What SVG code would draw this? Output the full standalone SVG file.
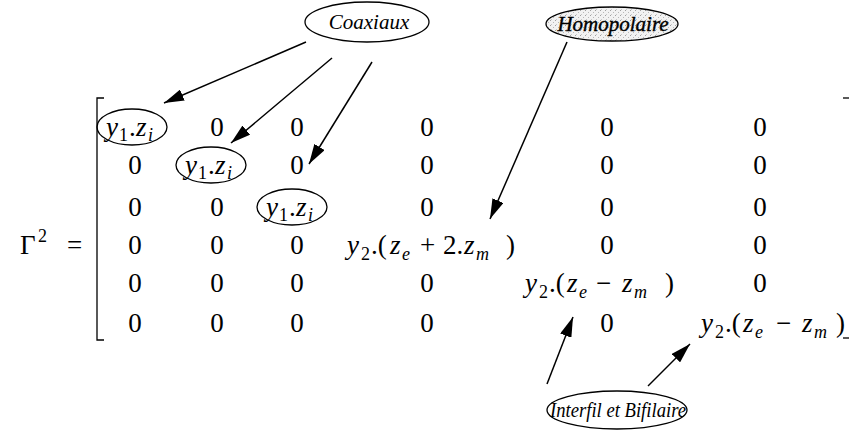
<svg xmlns="http://www.w3.org/2000/svg" width="852" height="440" viewBox="0 0 852 440" font-family="'Liberation Serif', 'Times New Roman', serif">
<style>
text, tspan{font-family:'Liberation Serif','Times New Roman',serif}
text{fill:#000}
.m{font-size:27px}
.i{font-style:italic}
.s{font-size:18px}
.lab{font-size:21px;font-style:italic;text-anchor:middle}
.c{text-anchor:middle}
.ell{fill:none;stroke:#000;stroke-width:1.3}
.br{fill:none;stroke:#000;stroke-width:1.3}
.con line{stroke:#000;stroke-width:1.5}
</style>
<defs>
<marker id="ah" viewBox="0 0 20 12" refX="20" refY="6" markerWidth="20" markerHeight="12" markerUnits="userSpaceOnUse" orient="auto">
<path d="M0,0 L20,6 L0,12 z" fill="#000"/>
</marker>
<pattern id="dots" width="5" height="5" patternUnits="userSpaceOnUse">
<rect width="5" height="5" fill="#f2f2f2"/>
<rect x="0" y="0" width="1" height="1" fill="#a0a0a0"/>
<rect x="3" y="2" width="1" height="1" fill="#b8b8b8"/>
<rect x="1" y="4" width="1" height="1" fill="#c8c8c8"/>
</pattern>
</defs>
<rect width="852" height="440" fill="#fff"/>

<g id="gamma">
<text class="m" x="20" y="254">Γ</text>
<text class="s" x="38" y="242">2</text>
<text class="m" x="67" y="254">=</text>
</g>

<g id="brackets">
<path class="br" d="M104,98 H97 V340 H104"/>
<path class="br" d="M843,98 H849"/>
</g>

<g id="matrix" class="m">
<text class="c" x="217" y="136">0</text>
<text class="c" x="297" y="136">0</text>
<text class="c" x="427" y="136">0</text>
<text class="c" x="607" y="136">0</text>
<text class="c" x="760" y="136">0</text>
<text class="c" x="135" y="174">0</text>
<text class="c" x="297" y="174">0</text>
<text class="c" x="427" y="174">0</text>
<text class="c" x="607" y="174">0</text>
<text class="c" x="760" y="174">0</text>
<text class="c" x="135" y="216">0</text>
<text class="c" x="217" y="216">0</text>
<text class="c" x="427" y="216">0</text>
<text class="c" x="607" y="216">0</text>
<text class="c" x="760" y="216">0</text>
<text class="c" x="135" y="254">0</text>
<text class="c" x="217" y="254">0</text>
<text class="c" x="297" y="254">0</text>
<text class="c" x="607" y="254">0</text>
<text class="c" x="760" y="254">0</text>
<text class="c" x="135" y="292">0</text>
<text class="c" x="217" y="292">0</text>
<text class="c" x="297" y="292">0</text>
<text class="c" x="427" y="292">0</text>
<text class="c" x="760" y="292">0</text>
<text class="c" x="135" y="332">0</text>
<text class="c" x="217" y="332">0</text>
<text class="c" x="297" y="332">0</text>
<text class="c" x="427" y="332">0</text>
<text class="c" x="607" y="332">0</text>
</g>

<g id="d1">
<ellipse class="ell" cx="132" cy="127" rx="35" ry="18"/>
<text class="m"><tspan class="i" x="106" y="136">y</tspan><tspan class="s" x="119" y="141">1</tspan><tspan x="129" y="136">.</tspan><tspan class="i" x="136" y="136">z</tspan><tspan class="s i" x="148" y="141">i</tspan></text>
</g>
<g id="d2">
<ellipse class="ell" cx="211" cy="165" rx="35" ry="18"/>
<text class="m"><tspan class="i" x="185" y="174">y</tspan><tspan class="s" x="198" y="179">1</tspan><tspan x="208" y="174">.</tspan><tspan class="i" x="215" y="174">z</tspan><tspan class="s i" x="227" y="179">i</tspan></text>
</g>
<g id="d3">
<ellipse class="ell" cx="292" cy="207" rx="35" ry="18"/>
<text class="m"><tspan class="i" x="266" y="216">y</tspan><tspan class="s" x="279" y="221">1</tspan><tspan x="289" y="216">.</tspan><tspan class="i" x="296" y="216">z</tspan><tspan class="s i" x="308" y="221">i</tspan></text>
</g>
<g id="d4">
<text class="m"><tspan class="i" x="347" y="254">y</tspan><tspan class="s" x="361" y="260">2</tspan><tspan x="371" y="254">.(</tspan><tspan class="i" x="390" y="254">z</tspan><tspan class="s i" x="402" y="260">e</tspan><tspan x="420" y="254">+</tspan><tspan x="443" y="254">2.</tspan><tspan class="i" x="464" y="254">z</tspan><tspan class="s i" x="476" y="260">m</tspan><tspan x="506" y="254">)</tspan></text>
</g>
<g id="d5">
<text class="m"><tspan class="i" x="525" y="292">y</tspan><tspan class="s" x="539" y="298">2</tspan><tspan x="549" y="292">.(</tspan><tspan class="i" x="567" y="292">z</tspan><tspan class="s i" x="579" y="298">e</tspan><tspan x="596" y="292">−</tspan><tspan class="i" x="622" y="292">z</tspan><tspan class="s i" x="634" y="298">m</tspan><tspan x="665" y="292">)</tspan></text>
</g>
<g id="d6">
<text class="m"><tspan class="i" x="701" y="332">y</tspan><tspan class="s" x="715" y="338">2</tspan><tspan x="725" y="332">.(</tspan><tspan class="i" x="743" y="332">z</tspan><tspan class="s i" x="755" y="338">e</tspan><tspan x="776" y="332">−</tspan><tspan class="i" x="802" y="332">z</tspan><tspan class="s i" x="814" y="338">m</tspan><tspan x="836" y="332">)</tspan></text>
<path class="br" d="M843,338 H849"/>
</g>

<g id="coaxiaux">
<ellipse class="ell" cx="367" cy="22" rx="62" ry="20"/>
<text class="lab" x="369" y="29">Coaxiaux</text>
</g>
<g id="homopolaire">
<ellipse cx="612" cy="24" rx="66" ry="17" fill="url(#dots)" stroke="#000" stroke-width="1.3"/>
<text class="lab" x="613" y="31" stroke="#000" stroke-width="0.4">Homopolaire</text>
</g>
<g id="interfil">
<ellipse class="ell" cx="617" cy="410" rx="70" ry="19"/>
<text class="lab" x="618" y="417" font-size="21" textLength="136" lengthAdjust="spacingAndGlyphs">Interfil et Bifilaire</text>
</g>

<g id="connectors" class="con">
<line x1="306" y1="42" x2="164" y2="103" marker-end="url(#ah)"/>
<line x1="332" y1="58" x2="231" y2="143" marker-end="url(#ah)"/>
<line x1="372" y1="62" x2="309" y2="164" marker-end="url(#ah)"/>
<line x1="567" y1="42" x2="490" y2="219" marker-end="url(#ah)"/>
<line x1="547" y1="384" x2="573" y2="317" marker-end="url(#ah)"/>
<line x1="648" y1="386" x2="690" y2="344" marker-end="url(#ah)"/>
</g>
</svg>
